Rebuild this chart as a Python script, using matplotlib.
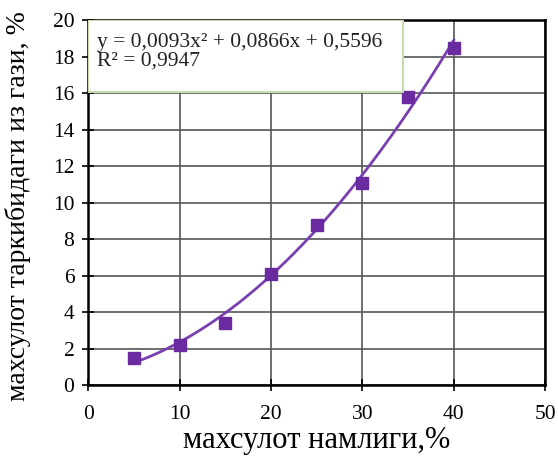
import numpy as np
import matplotlib.pyplot as plt
from matplotlib.patches import Rectangle

plt.rcParams['font.family'] = ['Liberation Serif', 'DejaVu Serif']

# moisture (%) vs gas content
moisture = [5, 10, 15, 20, 25, 30, 35, 40]
gas = [1.5, 2.2, 3.4, 6.1, 8.8, 11.1, 15.8, 18.5]
coef = [0.0093, 0.0866, 0.5596]
r2 = 0.9947

fig = plt.figure(figsize=(5.58, 4.59), dpi=100)
ax = fig.add_axes([0.158, 0.161, 0.819, 0.795])

xs = np.linspace(min(moisture), max(moisture), 200)
ax.plot(xs, np.polyval(coef, xs), color='#7a3fb0', lw=2, zorder=3)
ax.plot(moisture, gas, 's', color='#6a2aa0', ms=9, zorder=4)

ax.set_xlim(0, 50)
ax.set_ylim(0, 20)
ax.set_xticks(range(0, 51, 10))
ax.set_yticks(range(0, 21, 2))
ax.grid(True, color='#555555', lw=1.2)
ax.set_axisbelow(True)
for s in ax.spines.values():
    s.set_linewidth(1.8)
ax.tick_params(direction='inout', length=8, width=1.2, labelsize=15.5, pad=6)
ax.tick_params(axis='x', pad=10)

ax.set_xlabel('махсулот намлиги,%', fontsize=22, labelpad=2)
ax.set_ylabel('махсулот таркибидаги из гази, %', fontsize=20)
ax.yaxis.set_label_coords(-0.125, 0.49)

# trendline equation box
ax.add_patch(Rectangle((0, 0.803), 0.69, 0.197, transform=ax.transAxes,
                       fc='white', ec='#c8dcb0', lw=1.5, zorder=5))
eq = 'y = {:.4f}x² + {:.4f}x + {:.4f}\nR² = {:.4f}'.format(*coef, r2).replace('.', ',')
ax.text(0.02, 0.965, eq, transform=ax.transAxes, fontsize=15.5, va='top', ha='left',
        linespacing=0.95, zorder=6, color='#222222')

fig.savefig('out.png', dpi=100)
